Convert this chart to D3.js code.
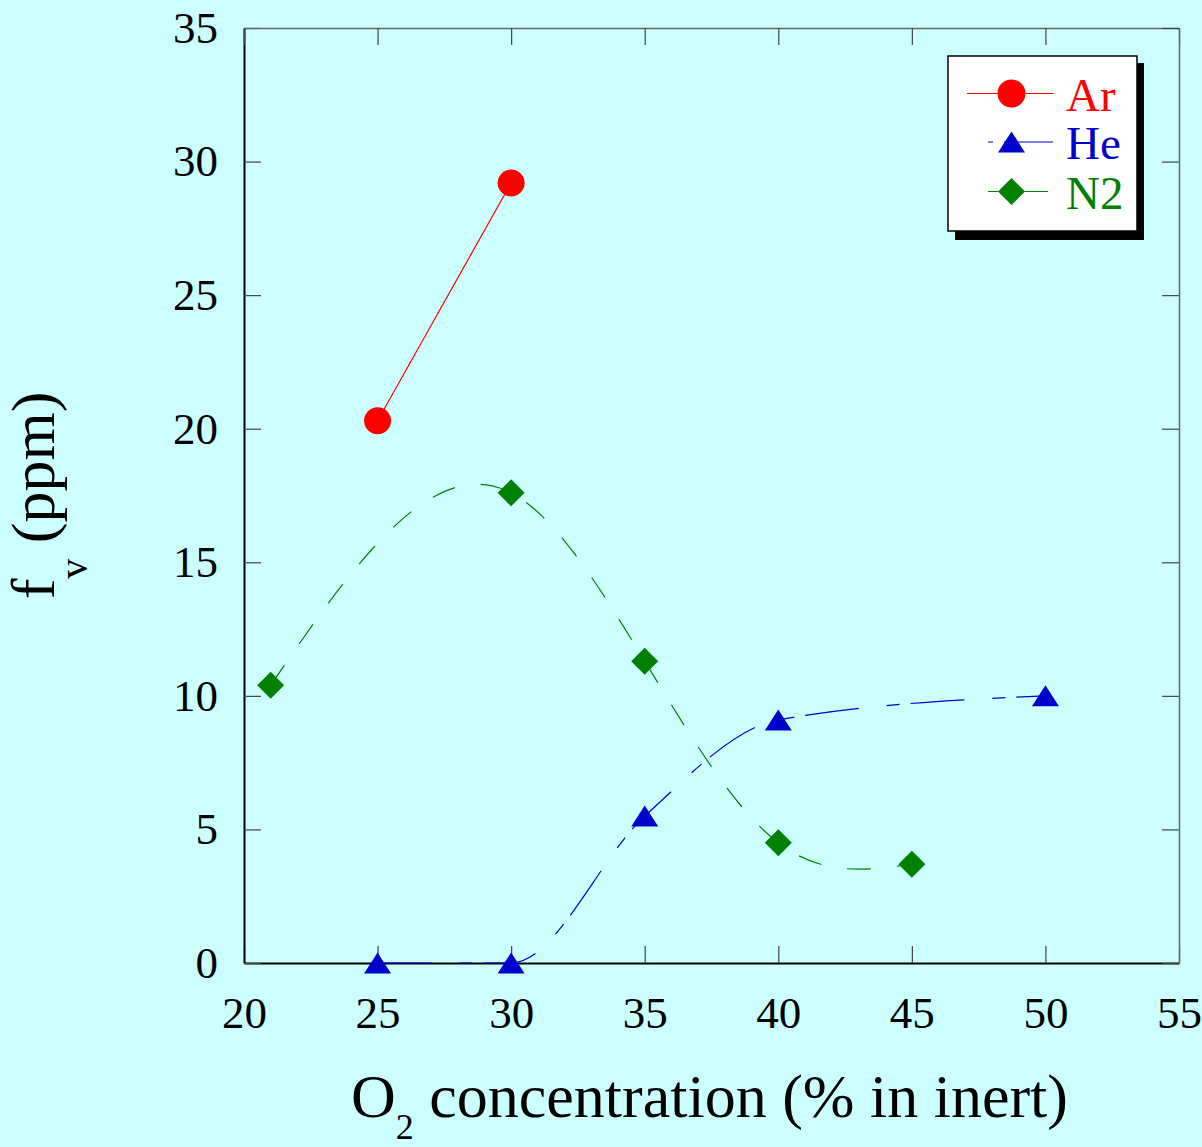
<!DOCTYPE html>
<html>
<head>
<meta charset="utf-8">
<script src="https://cdn.jsdelivr.net/npm/d3@7"></script>
<style>
  html, body { margin: 0; padding: 0; background: #ccffff; }
  svg { display: block; }
  text { font-family: "Liberation Serif", "Times New Roman", serif; }
</style>
</head>
<body>
<svg id="chart" width="1202" height="1147"></svg>
<script>
// O2 concentration (% in inert) for each diluent
const arX = [25, 30];
const arY = [20.3, 29.2];

const heX = [25, 30, 35, 40, 50];
const heY = [0, 0, 5.5, 9.1, 10.0];

const n2X = [21, 30, 35, 40, 45];
const n2Y = [10.4, 17.6, 11.3, 4.5, 3.7];

const xTicks = [20, 25, 30, 35, 40, 45, 50, 55];
const yTicks = [0, 5, 10, 15, 20, 25, 30, 35];

const seriesNames = ["Ar", "He", "N2"];

// Natural cubic spline in x, emitted as exact Bezier segments
function NaturalX(context) { this._context = context; }
NaturalX.prototype = {
  areaStart() { this._line = 0; },
  areaEnd() { this._line = NaN; },
  lineStart() { this._xs = []; this._ys = []; },
  point(px, py) { this._xs.push(+px); this._ys.push(+py); },
  lineEnd() {
    const xs = this._xs, ys = this._ys, n = xs.length, ctx = this._context;
    if (!n) return;
    ctx.moveTo(xs[0], ys[0]);
    if (n === 2) { ctx.lineTo(xs[1], ys[1]); return; }
    const h = [], s = [];
    for (let i = 0; i < n - 1; i++) { h.push(xs[i + 1] - xs[i]); s.push((ys[i + 1] - ys[i]) / h[i]); }
    // tridiagonal system for second derivatives M (natural ends: M0 = Mn = 0)
    const M = new Array(n).fill(0);
    const m = n - 2, a = [], b = [], c = [], d = [];
    for (let k = 0; k < m; k++) {
      const i = k + 1;
      a.push(h[i - 1]); b.push(2 * (h[i - 1] + h[i])); c.push(h[i]);
      d.push(6 * (s[i] - s[i - 1]));
    }
    for (let k = 1; k < m; k++) {
      const w = a[k] / b[k - 1];
      b[k] -= w * c[k - 1]; d[k] -= w * d[k - 1];
    }
    const sol = new Array(m);
    sol[m - 1] = d[m - 1] / b[m - 1];
    for (let k = m - 2; k >= 0; k--) sol[k] = (d[k] - c[k] * sol[k + 1]) / b[k];
    for (let k = 0; k < m; k++) M[k + 1] = sol[k];
    for (let i = 0; i < n - 1; i++) {
      const hi = h[i];
      const mL = s[i] - hi * (2 * M[i] + M[i + 1]) / 6;
      const mR = s[i] + hi * (M[i] + 2 * M[i + 1]) / 6;
      ctx.bezierCurveTo(xs[i] + hi / 3, ys[i] + mL * hi / 3,
                        xs[i + 1] - hi / 3, ys[i + 1] - mR * hi / 3,
                        xs[i + 1], ys[i + 1]);
    }
  }
};
const curveNaturalX = ctx => new NaturalX(ctx);

const svg = d3.select("#chart");
const plotLeft = 244, plotRight = 1179, plotTop = 28, plotBottom = 963;

const x = d3.scaleLinear().domain([20, 55]).range([plotLeft, plotRight]);
const y = d3.scaleLinear().domain([0, 35]).range([plotBottom, plotTop]);

const colors = { Ar: "#ff0000", He: "#0000cc", N2: "#008000" };

// ---- axes ----
const tickFont = 45;
const gBottom = svg.append("g").attr("transform", `translate(0,${plotBottom})`)
  .call(d3.axisBottom(x).tickValues(xTicks).tickSizeInner(-17).tickSizeOuter(0).tickPadding(33).tickFormat(d3.format("d")));
const gLeft = svg.append("g").attr("transform", `translate(${plotLeft},0)`)
  .call(d3.axisLeft(y).tickValues(yTicks).tickSizeInner(-17).tickSizeOuter(0).tickPadding(26).tickFormat(d3.format("d")));
const gTop = svg.append("g").attr("transform", `translate(0,${plotTop})`)
  .call(d3.axisTop(x).tickValues(xTicks).tickSizeInner(-17).tickSizeOuter(0).tickFormat(""));
const gRight = svg.append("g").attr("transform", `translate(${plotRight},0)`)
  .call(d3.axisRight(y).tickValues(yTicks).tickSizeInner(-17).tickSizeOuter(0).tickFormat(""));

[gBottom, gLeft, gTop, gRight].forEach(g => {
  g.selectAll(".tick line").attr("stroke", "#444").attr("stroke-width", 1.2);
  g.selectAll(".tick text").attr("fill", "#000").attr("font-size", tickFont)
    .attr("font-family", "Liberation Serif");
});
gBottom.select(".domain").attr("stroke", "#000").attr("stroke-width", 2);
gLeft.select(".domain").attr("stroke", "#000").attr("stroke-width", 2);
gTop.select(".domain").attr("stroke", "#666").attr("stroke-width", 1.5);
gRight.select(".domain").attr("stroke", "#666").attr("stroke-width", 1.5);

// ---- axis titles ----
const xTitle = svg.append("text")
  .attr("x", (plotLeft + plotRight) / 2 - 2).attr("y", 1117)
  .attr("text-anchor", "middle").attr("font-size", 62).attr("fill", "#000");
xTitle.append("tspan").text("O");
xTitle.append("tspan").attr("font-size", 36).attr("dy", 22).text("2");
xTitle.append("tspan").attr("dy", -22).text(" concentration (% in inert)");

const yTitle = svg.append("text")
  .attr("transform", `translate(54,${(plotTop + plotBottom) / 2}) rotate(-90)`)
  .attr("text-anchor", "middle").attr("font-size", 62).attr("fill", "#000");
yTitle.append("tspan").text("f");
yTitle.append("tspan").attr("font-size", 40).attr("dy", 33).text("v");
yTitle.append("tspan").attr("dy", -33).text(" (ppm)");

// ---- series lines ----
const pts = (xs, ys) => xs.map((v, i) => [v, ys[i]]);
const line = d3.line().x(d => x(d[0])).y(d => y(d[1]));

const dashHe = "54,28,13,11";
const dashN2 = "24,26";

svg.append("path").datum(pts(n2X, n2Y))
  .attr("d", line.curve(curveNaturalX))
  .attr("fill", "none").attr("stroke", colors.N2).attr("stroke-width", 1.2)
  .attr("stroke-dasharray", dashN2);

svg.append("path").datum(pts(heX, heY))
  .attr("d", line.curve(d3.curveMonotoneX))
  .attr("fill", "none").attr("stroke", colors.He).attr("stroke-width", 1.2)
  .attr("stroke-dasharray", dashHe);

svg.append("path").datum(pts(arX, arY))
  .attr("d", line.curve(d3.curveLinear))
  .attr("fill", "none").attr("stroke", colors.Ar).attr("stroke-width", 1.2);

// ---- markers ----
const triangle = (cx, cy) => `M${cx},${cy - 10.5}L${cx + 13.5},${cy + 10.5}L${cx - 13.5},${cy + 10.5}Z`;
const diamond = (cx, cy) => `M${cx},${cy - 13.5}L${cx + 13.5},${cy}L${cx},${cy + 13.5}L${cx - 13.5},${cy}Z`;

svg.append("g").selectAll("path").data(pts(n2X, n2Y)).join("path")
  .attr("d", d => diamond(x(d[0]), y(d[1]))).attr("fill", colors.N2);

svg.append("g").selectAll("path").data(pts(heX, heY)).join("path")
  .attr("d", d => triangle(x(d[0]), y(d[1]))).attr("fill", colors.He);

svg.append("g").selectAll("circle").data(pts(arX, arY)).join("circle")
  .attr("cx", d => x(d[0])).attr("cy", d => y(d[1])).attr("r", 13.5).attr("fill", colors.Ar);

// ---- legend ----
const lg = svg.append("g");
lg.append("rect").attr("x", 955).attr("y", 63).attr("width", 189).attr("height", 177).attr("fill", "#000");
lg.append("rect").attr("x", 948).attr("y", 56).attr("width", 189).attr("height", 175)
  .attr("fill", "#fff").attr("stroke", "#000").attr("stroke-width", 1.5);

const rows = [
  { name: seriesNames[0], cy: 93.5, x1: 967, dash: null, off: 0 },
  { name: seriesNames[1], cy: 142, x1: 988, dash: dashHe, off: 90 },
  { name: seriesNames[2], cy: 191.5, x1: 988, dash: dashN2, off: 14 }
];
rows.forEach(r => {
  const ln = lg.append("line").attr("x1", r.x1).attr("x2", 1053).attr("y1", r.cy).attr("y2", r.cy)
    .attr("stroke", colors[r.name]).attr("stroke-width", 1.2);
  if (r.dash) ln.attr("stroke-dasharray", r.dash).attr("stroke-dashoffset", r.off);
  const mx = 1011.5;
  if (r.name === "Ar") lg.append("circle").attr("cx", mx).attr("cy", r.cy).attr("r", 14).attr("fill", colors.Ar);
  if (r.name === "He") lg.append("path").attr("d", triangle(mx, r.cy)).attr("fill", colors.He);
  if (r.name === "N2") lg.append("path").attr("d", diamond(mx, r.cy)).attr("fill", colors.N2);
  lg.append("text").attr("x", 1066).attr("y", r.cy + 17).attr("font-size", 47)
    .attr("fill", colors[r.name]).text(r.name);
});
</script>
</body>
</html>
